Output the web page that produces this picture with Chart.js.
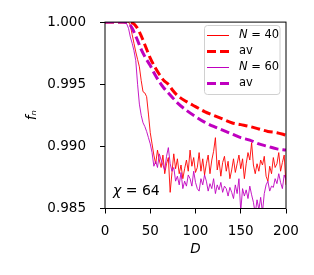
<!DOCTYPE html>
<html>
<head>
<meta charset="utf-8">
<script src="https://cdn.jsdelivr.net/npm/chart.js@4/dist/chart.umd.min.js"></script>
<style>
  body { margin: 0; background: #fff; }
</style>
</head>
<body>
<canvas id="fnChart" width="314" height="275"></canvas>
<script>
// D values of the noisy curves
const dValues = [
  0, 2, 4, 6, 8, 10, 12, 14, 16, 18,
  20, 22, 24, 26, 28, 30, 32, 34, 36, 38,
  40, 42, 44, 46, 48, 50, 52, 54, 56, 58,
  60, 62, 64, 66, 68, 70, 72, 74, 76, 78,
  80, 82, 84, 86, 88, 90, 92, 94, 96, 98,
  100, 102, 104, 106, 108, 110, 112, 114, 116, 118,
  120, 122, 124, 126, 128, 130, 132, 134, 136, 138,
  140, 142, 144, 146, 148, 150, 152, 154, 156, 158,
  160, 162, 164, 166, 168, 170, 172, 174, 176, 178,
  180, 182, 184, 186, 188, 190, 192, 194, 196, 198,
  200
];
const fN40 = [
  1, 1, 1, 1, 1, 1, 1, 1, 1, 1,
  1, 1, 1, 1, 0.99975, 0.9990, 0.9983, 0.9976, 0.9970, 0.9964,
  0.9953, 0.9944, 0.9943, 0.9940, 0.9926, 0.9911, 0.9902, 0.9893, 0.9886, 0.9897,
  0.9889, 0.9883, 0.9893, 0.9878, 0.9886, 0.9891, 0.9863, 0.9879, 0.9894, 0.9882,
  0.9890, 0.9878, 0.9885, 0.9874, 0.9882, 0.9889, 0.9880, 0.9897, 0.9884, 0.9891,
  0.9879, 0.9883, 0.9895, 0.9880, 0.9890, 0.9877, 0.9886, 0.9893, 0.9878, 0.9889,
  0.9896, 0.9907, 0.9881, 0.9889, 0.9876, 0.9887, 0.9892, 0.9880, 0.9888, 0.9874,
  0.9881, 0.9890, 0.9879, 0.9886, 0.9893, 0.9882, 0.9890, 0.9874, 0.9886, 0.9895,
  0.9889, 0.9903, 0.9885, 0.9878, 0.9886, 0.9880, 0.9889, 0.9885, 0.9892, 0.9876,
  0.9872, 0.9884, 0.9878, 0.9891, 0.9883, 0.9886, 0.9895, 0.9880, 0.9887, 0.9893,
  0.9869
];
const fN60 = [
  1, 1, 1, 1, 1, 1, 1, 1, 1, 1,
  1, 1, 0.99985, 0.9995, 0.9988, 0.9983, 0.9977, 0.9969, 0.9950, 0.9934,
  0.9925, 0.9919, 0.9916, 0.9912, 0.9907, 0.9902, 0.9895, 0.9884, 0.9888, 0.9883,
  0.9894, 0.9889, 0.9885, 0.9881, 0.9892, 0.9899, 0.9886, 0.9880, 0.9883, 0.9872,
  0.9876, 0.9869, 0.9879, 0.9866, 0.9872, 0.9868, 0.9877, 0.9874, 0.9868, 0.9880,
  0.9871, 0.9866, 0.9864, 0.9874, 0.9869, 0.9877, 0.9872, 0.9864, 0.9870, 0.9866,
  0.9874, 0.9862, 0.9869, 0.9865, 0.9871, 0.9863, 0.9868, 0.9866, 0.9860, 0.9867,
  0.9863, 0.9858, 0.9869, 0.9862, 0.9874, 0.9848, 0.9866, 0.9860, 0.9865, 0.9858,
  0.9868, 0.9861, 0.9855, 0.9846, 0.9857, 0.9849, 0.9859, 0.9847, 0.9862, 0.9869,
  0.9872, 0.9864, 0.9868, 0.9867, 0.9874, 0.9870, 0.9878, 0.9871, 0.9866, 0.9877,
  0.9873
];

// averaged curves
const avD = [0, 10, 20, 26, 30, 35, 40, 45, 50, 55, 60, 65, 70, 75, 80, 90, 100, 110, 120, 130, 140, 150, 160, 170, 180, 190, 200];
const av40 = [1, 1, 1, 1, 0.99995, 0.9996, 0.9989, 0.9980, 0.9971, 0.9964, 0.9958, 0.9953, 0.9950, 0.9945, 0.9941, 0.9936, 0.9932, 0.9928, 0.9925, 0.9922, 0.9919, 0.99175, 0.9916, 0.9914, 0.9912, 0.9911, 0.9909];
const av60 = [1, 1, 1, 0.9999, 0.9995, 0.9987, 0.9978, 0.9971, 0.9965, 0.9958, 0.9952, 0.9947, 0.9943, 0.9939, 0.9935, 0.9929, 0.9924, 0.99195, 0.9916, 0.9913, 0.9910, 0.9907, 0.9905, 0.9902, 0.9900, 0.9898, 0.9897];

const xTicks = [0, 50, 100, 150, 200];
const yTicks = [0.985, 0.990, 0.995, 1.000];

const RED = '#ff0000';
const MAG = '#bf00bf';
const FONT = "'DejaVu Sans'";

function pts(xs, ys) { return xs.map((x, i) => ({ x: x, y: ys[i] })); }

// legend items: [variable (italic), rest]
const legendItems = [
  { v: 'N', t: ' = 40', color: RED, width: 1, dash: [] },
  { v: '', t: 'av', color: RED, width: 3, dash: [9, 4] },
  { v: 'N', t: ' = 60', color: MAG, width: 1, dash: [] },
  { v: '', t: 'av', color: MAG, width: 3, dash: [9, 4] }
];

const extras = {
  id: 'extras',
  afterDatasetsDraw(chart) {
    const { ctx, chartArea: a } = chart;
    ctx.save();
    // axes box
    ctx.strokeStyle = '#000';
    ctx.lineWidth = 1;
    ctx.strokeRect(a.left, a.top, a.right - a.left, a.bottom - a.top);

    // chi label
    ctx.fillStyle = '#000';
    ctx.textBaseline = 'alphabetic';
    ctx.font = 'italic 14px ' + FONT;
    ctx.fillText('χ', 113, 195);
    const w = ctx.measureText('χ').width;
    ctx.font = '14px ' + FONT;
    ctx.fillText(' = 64', 113 + w, 195);

    // legend
    const bx = 204.5, by = 25.5, bw = 75.5, bh = 69;
    ctx.beginPath();
    ctx.roundRect(bx, by, bw, bh, 3);
    ctx.fillStyle = 'rgba(255,255,255,0.85)';
    ctx.fill();
    ctx.strokeStyle = '#d0d0d0';
    ctx.lineWidth = 1;
    ctx.stroke();
    legendItems.forEach((it, i) => {
      const y = 35.5 + i * 16;
      ctx.beginPath();
      ctx.setLineDash(it.dash);
      ctx.strokeStyle = it.color;
      ctx.lineWidth = it.width;
      ctx.moveTo(207, y);
      ctx.lineTo(229, y);
      ctx.stroke();
      ctx.setLineDash([]);
      ctx.fillStyle = '#000';
      ctx.textBaseline = 'middle';
      let x = 239;
      if (it.v) {
        ctx.font = 'italic 11.5px ' + FONT;
        ctx.fillText(it.v, x, y);
        x += ctx.measureText(it.v).width;
      }
      ctx.font = '11.5px ' + FONT;
      ctx.fillText(it.t, x, y);
    });
    ctx.restore();
  }
};

new Chart(document.getElementById('fnChart'), {
  type: 'line',
  data: {
    datasets: [
      {
        label: 'N = 40',
        data: pts(dValues, fN40),
        borderColor: RED,
        borderWidth: 0.9,
        pointRadius: 0,
        tension: 0,
        clip: 0,
        order: 3
      },
      {
        label: 'av',
        data: pts(avD, av40),
        borderColor: RED,
        borderWidth: 3,
        borderDash: [9, 4],
        pointRadius: 0,
        cubicInterpolationMode: 'monotone',
        clip: 0,
        order: 2
      },
      {
        label: 'N = 60',
        data: pts(dValues, fN60),
        borderColor: MAG,
        borderWidth: 0.9,
        pointRadius: 0,
        tension: 0,
        clip: 0,
        order: 1
      },
      {
        label: 'av',
        data: pts(avD, av60),
        borderColor: MAG,
        borderWidth: 3,
        borderDash: [9, 4],
        pointRadius: 0,
        cubicInterpolationMode: 'monotone',
        clip: 0,
        order: 0
      }
    ]
  },
  options: {
    responsive: false,
    devicePixelRatio: 1,
    animation: false,
    layout: { padding: { left: 0, right: 28, top: 21, bottom: 0 } },
    plugins: {
      legend: { display: false },
      tooltip: { enabled: false }
    },
    scales: {
      x: {
        type: 'linear',
        min: 0,
        max: 200,
        afterFit: (s) => { s.height = 66.5; },
        afterBuildTicks: (s) => { s.ticks = xTicks.map(v => ({ value: v })); },
        border: { display: false },
        grid: { drawOnChartArea: false, drawTicks: true, tickLength: 5, color: '#000' },
        ticks: { color: '#000', padding: 10, maxRotation: 0, font: { family: FONT, size: 13.5 } },
        title: { display: true, text: 'D', color: '#000', padding: { top: 0, bottom: 17 }, font: { family: FONT, size: 13.5, style: 'italic' } }
      },
      y: {
        type: 'linear',
        min: 0.985,
        max: 1.0,
        afterFit: (s) => { s.width = 105; },
        afterBuildTicks: (s) => { s.ticks = yTicks.map(v => ({ value: v })); },
        border: { display: false },
        grid: { drawOnChartArea: false, drawTicks: true, tickLength: 5, color: '#000' },
        ticks: { color: '#000', padding: 14, callback: (v) => v.toFixed(3), font: { family: FONT, size: 13.5 } },
        title: { display: true, text: 'fₙ', color: '#000', padding: { top: 24, bottom: 0 }, font: { family: FONT, size: 13.5, style: 'italic' } }
      }
    }
  },
  plugins: [extras]
});
</script>
</body>
</html>
